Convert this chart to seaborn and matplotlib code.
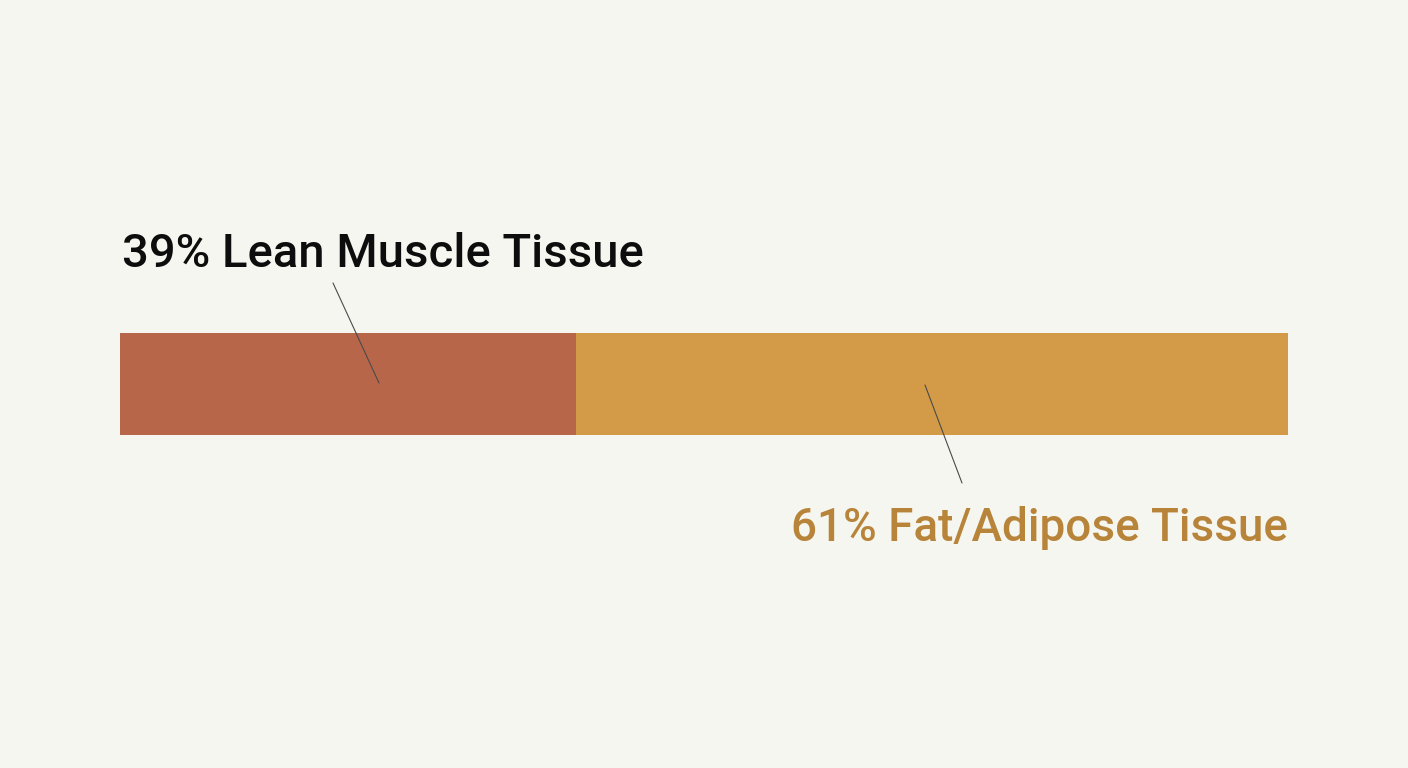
import numpy as np
import pandas as pd
import matplotlib
matplotlib.use("Agg")
import matplotlib.pyplot as plt
import seaborn as sns

# data
categories = ["Lean Muscle Tissue", "Fat/Adipose Tissue"]
shares = [39, 61]
labels = ["39% Lean Muscle Tissue", "61% Fat/Adipose Tissue"]
colors = ["#b8664a", "#d39b48"]
label_colors = ["#0d0d0d", "#b8843a"]

sns.set_theme(style="white")
plt.rcParams["font.family"] = ["Roboto", "DejaVu Sans"]

bg = "#f6f6f0"
fig = plt.figure(figsize=(14.08, 7.68), dpi=100, facecolor=bg)
ax = fig.add_axes([0, 0, 1, 1])
ax.set_facecolor(bg)

# stacked: draw cumulative totals back to front
cum = np.cumsum(shares)
df = pd.DataFrame({"row": ["body"] * len(shares), "cum": cum, "cat": categories})
for i in range(len(shares) - 1, -1, -1):
    sns.barplot(data=df.iloc[[i]], x="cum", y="row", color=colors[i],
                width=0.8, saturation=1, ax=ax, linewidth=0)

# px -> data mapping: 0 at x=120px, 100 at x=1288px
ppu = (1288 - 120) / 100
ax.set_xlim(-120 / ppu, 100 + (1408 - 1288) / ppu)
ppy = 102 / 0.8
ax.set_ylim(384 / ppy, -384 / ppy)

def py(p):
    return (p - 384) / ppy

def px(p):
    return (p - 120) / ppu

# labels
ax.text(px(122), py(267), labels[0], color=label_colors[0], fontsize=34,
        fontweight="medium", ha="left", va="baseline")
ax.text(100, py(541), labels[1], color=label_colors[1], fontsize=33,
        fontweight="medium", ha="right", va="baseline")

# leader lines
ax.plot([px(333), px(379)], [py(283), py(383)], color="#4a4a4a", lw=0.8)
ax.plot([px(925), px(962)], [py(385), py(483)], color="#4a4a4a", lw=0.8)

ax.axis("off")
fig.savefig("out.png", dpi=100, facecolor=bg)
